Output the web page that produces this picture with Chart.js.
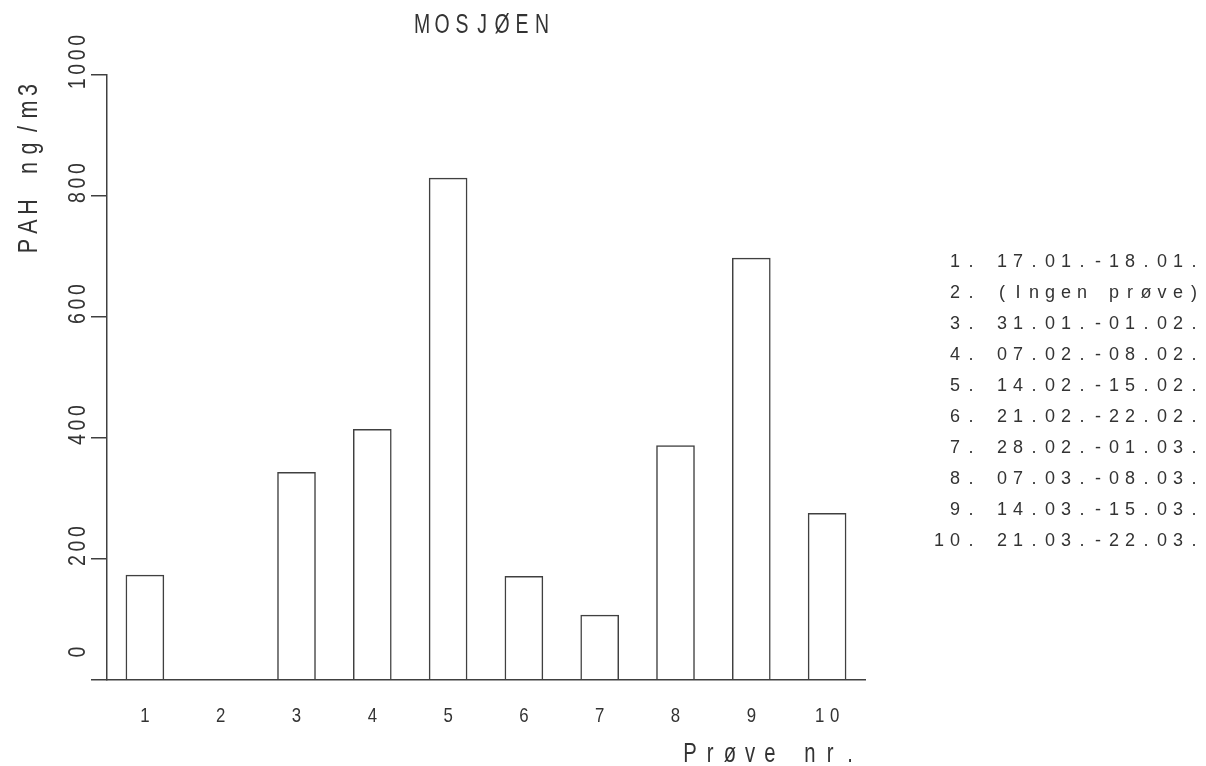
<!DOCTYPE html>
<html>
<head>
<meta charset="utf-8">
<title>MOSJØEN</title>
<script src="https://cdn.jsdelivr.net/npm/chart.js@4.4.1/dist/chart.umd.min.js"></script>
<style>
  html, body { margin: 0; padding: 0; background: #fff; }
  #chart { display: block; }
</style>
</head>
<body>
<canvas id="chart" width="1206" height="766"></canvas>
<script>
// data
const proveNr = ["1", "2", "3", "4", "5", "6", "7", "8", "9", "10"];
const pahVerdier = [174, null, 344, 415, 830, 172, 108, 388, 698, 276];
const yTicks = [0, 200, 400, 600, 800, 1000];
const datoer = [
  "17.01.-18.01.",
  "(Ingen prøve)",
  "31.01.-01.02.",
  "07.02.-08.02.",
  "14.02.-15.02.",
  "21.02.-22.02.",
  "28.02.-01.03.",
  "07.03.-08.03.",
  "14.03.-15.03.",
  "21.03.-22.03."
];
const tittel = "MOSJØEN";
const yTittel = "PAH ng/m3";
const xTittel = "Prøve nr.";

const strek = "#404040";
const tekst = "#333333";
const font = "'Liberation Sans', 'DejaVu Sans', sans-serif";

// plotter style text: every character in its own fixed-width cell, glyphs squeezed by sx
// align: "left" -> cx is the centre of the first char, "right" -> of the last, "center" -> of the whole
function skrivSpredt(ctx, txt, cx, y, pitch, align, sx) {
  const chars = Array.from(txt);
  let start = cx;
  if (align === "center") start = cx - ((chars.length - 1) * pitch) / 2;
  if (align === "right") start = cx - (chars.length - 1) * pitch;
  ctx.textAlign = "center";
  chars.forEach((c, i) => {
    ctx.save();
    ctx.translate(start + i * pitch, y);
    ctx.scale(sx || 1, 1);
    ctx.fillText(c, 0, 0);
    ctx.restore();
  });
}

const tekstPlugin = {
  id: "tekst",
  afterDraw(chart) {
    const ctx = chart.ctx;
    const xs = chart.scales.x;
    const ys = chart.scales.y;

    ctx.save();
    ctx.fillStyle = tekst;
    ctx.textBaseline = "alphabetic";

    // title
    ctx.font = "27px " + font;
    skrivSpredt(ctx, tittel, 422, 33, 20, "left", 0.72);

    // y tick labels, reading bottom to top
    ctx.font = "23px " + font;
    yTicks.forEach((v) => {
      const py = ys.getPixelForValue(v) - (v === 0 ? 28 : 13);
      ctx.save();
      ctx.translate(85, py);
      ctx.rotate(-Math.PI / 2);
      skrivSpredt(ctx, String(v), 0, 0, 14.5, "center", 0.85);
      ctx.restore();
    });

    // y title
    ctx.font = "27px " + font;
    ctx.save();
    ctx.translate(37, 246);
    ctx.rotate(-Math.PI / 2);
    skrivSpredt(ctx, yTittel, 0, 0, 19.5, "left", 0.8);
    ctx.restore();

    // x tick labels
    ctx.font = "21px " + font;
    proveNr.forEach((lab, i) => {
      skrivSpredt(ctx, lab, xs.getPixelForValue(i), 722, 15, "center", 0.8);
    });

    // x title
    ctx.font = "27px " + font;
    skrivSpredt(ctx, xTittel, 690, 762, 20, "left", 0.75);

    // list of sampling dates
    ctx.font = "18px " + font;
    datoer.forEach((d, i) => {
      const py = 267 + i * 31;
      skrivSpredt(ctx, proveNr[i] + ".", 971, py, 16, "right", 1);
      skrivSpredt(ctx, d, 1002, py, 16, "left", 1);
    });

    ctx.restore();
  }
};

const ctx = document.getElementById("chart").getContext("2d");
new Chart(ctx, {
  type: "bar",
  data: {
    labels: proveNr,
    datasets: [
      {
        label: "PAH ng/m3",
        data: pahVerdier,
        backgroundColor: "rgba(255,255,255,0)",
        borderColor: strek,
        borderWidth: 1.5,
        barPercentage: 0.51,
        categoryPercentage: 1.0
      }
    ]
  },
  options: {
    responsive: false,
    animation: false,
    layout: {
      padding: { top: 75, right: 341, bottom: 0, left: 0 }
    },
    plugins: {
      legend: { display: false },
      title: { display: false },
      tooltip: { enabled: false }
    },
    scales: {
      x: {
        grid: { display: false, drawTicks: false },
        border: { display: true, color: strek, width: 1.5 },
        ticks: { display: false },
        afterFit: (scale) => { scale.height = 86; }
      },
      y: {
        min: 0,
        max: 1000,
        grid: {
          drawOnChartArea: false,
          drawTicks: true,
          tickLength: 16,
          color: strek,
          lineWidth: 1.5
        },
        border: { display: true, color: strek, width: 1.5 },
        ticks: { display: false, stepSize: 200 },
        afterFit: (scale) => { scale.width = 107; }
      }
    }
  },
  plugins: [tekstPlugin]
});
</script>
</body>
</html>
